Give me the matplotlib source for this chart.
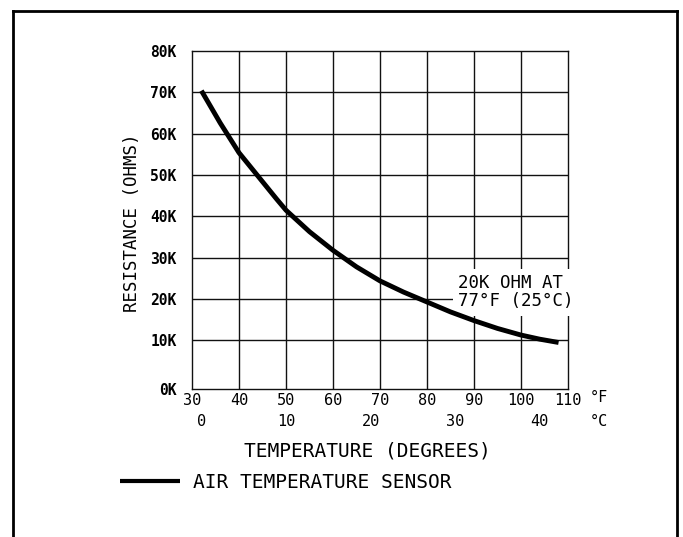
#!/usr/bin/env python3
# -*- coding: utf-8 -*-

"""Air temperature sensor: resistance vs temperature chart."""

import matplotlib
matplotlib.use("Agg")
import matplotlib.pyplot as plt
from matplotlib.lines import Line2D


# =================================================================
# data
# =================================================================
TEMPS_F = [32, 36, 40, 44, 48, 50, 55, 60, 65, 70, 75, 80, 85, 90, 95,
           100, 104, 108]
RESIST_K = [70.4, 62.6, 55.4, 49.8, 44.2, 41.5, 36.3, 31.8, 27.8, 24.4,
            21.7, 19.3, 16.9, 14.8, 12.9, 11.3, 10.3, 9.5]

X_TICKS_F = [30, 40, 50, 60, 70, 80, 90, 100, 110]
X_TICKS_C = [0, 10, 20, 30, 40]
Y_TICKS_K = [0, 10, 20, 30, 40, 50, 60, 70, 80]
Y_LABELS = ["0K", "10K", "20K", "30K", "40K", "50K", "60K", "70K", "80K"]

NOTE_TEXT = "20K OHM AT\n77°F (25°C)"
SERIES_NAME = "AIR TEMPERATURE SENSOR"
# =================================================================

MONO = "DejaVu Sans Mono"
Y_FLOOR = -1.75  # the drawing puts its 0K baseline a bit below a full step


def f_to_c(f):
    return (f - 32) * 5.0 / 9.0


def c_to_f(c):
    return c * 9.0 / 5.0 + 32


def main():
    plt.rcParams["font.family"] = MONO
    fig = plt.figure(figsize=(6.83, 5.37), dpi=100)
    ax = fig.add_axes([0.2811, 0.2756, 0.5505, 0.6294])

    line, = ax.plot(TEMPS_F, RESIST_K, color="black", lw=3.5,
                    solid_capstyle="butt", solid_joinstyle="round",
                    zorder=5, label=SERIES_NAME)

    ax.set_xlim(X_TICKS_F[0], X_TICKS_F[-1])
    ax.set_ylim(Y_FLOOR, Y_TICKS_K[-1])

    # grid drawn by hand so the 0K row sits on the baseline
    for x in X_TICKS_F[1:-1]:
        ax.axvline(x, color="#111111", lw=1.0, zorder=1)
    for y in Y_TICKS_K[1:-1]:
        ax.axhline(y, color="#111111", lw=1.0, zorder=1)
    for sp in ax.spines.values():
        sp.set_linewidth(1.0)
        sp.set_color("#111111")

    ax.set_xticks(X_TICKS_F)
    ax.set_xticklabels([str(v) for v in X_TICKS_F], fontsize=11)
    ax.tick_params(axis="x", length=0, pad=3)

    ax.set_yticks([Y_FLOOR] + Y_TICKS_K[1:])
    ax.set_yticklabels(Y_LABELS, fontsize=10.5, fontweight="bold")
    ax.tick_params(axis="y", length=0, pad=11)

    sec = ax.secondary_xaxis("bottom", functions=(f_to_c, c_to_f))
    sec.set_xticks(X_TICKS_C)
    sec.set_xticklabels([str(v) for v in X_TICKS_C], fontsize=11)
    sec.tick_params(length=0, pad=18)
    sec.spines["bottom"].set_visible(False)

    ax.text(1.058, -0.025, "°F", transform=ax.transAxes, fontsize=11,
            ha="left", va="center")
    ax.text(1.058, -0.097, "°C", transform=ax.transAxes, fontsize=11,
            ha="left", va="center")

    # note with white box that hides the grid behind it
    ax.text(86.6, 21.6, NOTE_TEXT, fontsize=12.5, ha="left", va="center",
            linespacing=1.0, zorder=4,
            bbox=dict(boxstyle="square,pad=0.3", fc="white", ec="none"))

    fig.text(0.538, 0.161, "TEMPERATURE (DEGREES)", fontsize=14,
             ha="center", va="center")
    fig.text(0.193, 0.585, "RESISTANCE (OHMS)", fontsize=12.5,
             rotation=90, ha="center", va="center")

    leg = fig.legend(handles=[line], loc="center left",
                     bbox_to_anchor=(120 / 683, 1 - 482 / 537),
                     frameon=False, borderpad=0, borderaxespad=0,
                     handlelength=3.1, handletextpad=0.65,
                     prop={"family": MONO, "size": 14})
    leg.legend_handles[0].set_linewidth(3.0)

    # page border, open at the bottom
    for xs, ys in [((0.019, 0.019), (0.0, 0.9795)),
                   ((0.991, 0.991), (0.0, 0.9795)),
                   ((0.019, 0.991), (0.9795, 0.9795))]:
        fig.add_artist(Line2D(xs, ys, color="black", lw=2.0,
                              transform=fig.transFigure))

    fig.savefig("out.png", dpi=100)


if __name__ == "__main__":
    main()
